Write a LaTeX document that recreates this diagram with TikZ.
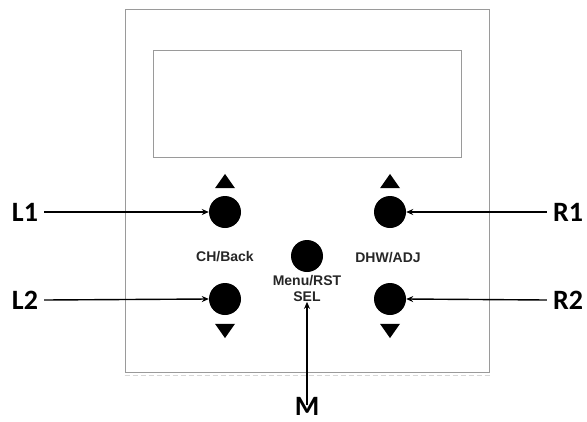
\documentclass[tikz,border=0pt]{standalone}
\usepackage{fontspec}
\newfontfamily\calib{Carlito}
\newfontfamily\arialb{Liberation Sans}
\usepackage{tikz}
\usetikzlibrary{arrows.meta,positioning,shapes.geometric,calc}
\definecolor{frame}{HTML}{9A9A9A}
\definecolor{ink}{HTML}{000000}
\tikzset{
  panelbox/.style={rectangle, draw=frame, line width=1pt},
  knob/.style={circle, fill=ink, minimum size=32pt, inner sep=0pt},
  uptri/.style={isosceles triangle, isosceles triangle apex angle=70,
    shape border rotate=90, fill=ink, minimum width=20pt, minimum height=13pt, inner sep=0pt},
  downtri/.style={uptri, shape border rotate=-90},
  keytext/.style={font=\arialb\bfseries\fontsize{14}{16}\selectfont, align=center, text=ink!85},
  callout/.style={font=\calib\bfseries\fontsize{28}{30}\selectfont, inner sep=0pt},
  pointer/.style={-{Stealth[length=7pt,width=6pt]}, line width=1.4pt, color=ink}
}
\begin{document}
\begin{tikzpicture}[x=1pt, y=-1pt]
  \useasboundingbox (0,0) rectangle (587,421);
  % panel and display
  \node[panelbox, minimum width=364pt, minimum height=363pt] (panel) at (307,190.5) {};
  \draw[frame!40, dashed, dash pattern=on 5pt off 3pt, line width=0.8pt]
    ([yshift=-3pt]panel.south west) -- ([yshift=-3pt]panel.south east);
  \node[panelbox, minimum width=308pt, minimum height=107pt] (lcd) at (307,103.5) {};
  % buttons
  \node[knob] (l1) at (225,212) {};
  \node[knob] (l2) at (225,299) {};
  \node[knob] (r1) at (390,212) {};
  \node[knob] (r2) at (390,299) {};
  \node[knob] (mid) at (307,256) {};
  \node[uptri] (l1up) at (225,183) {};
  \node[uptri] (r1up) at (390,183) {};
  \node[downtri] (l2dn) at (225,329) {};
  \node[downtri] (r2dn) at (390,329) {};
  \node[keytext] (chback) at (225,257) {CH/Back};
  \node[keytext] (dhwadj) at (388,258) {DHW/ADJ};
  \node[keytext, below=3pt of mid, inner sep=0pt] (menusel) {Menu/RST\\SEL};
  % callouts
  \node[callout] (lab1) at (25,212) {L1};
  \node[callout] (lab2) at (25,300) {L2};
  \node[callout] (rab1) at (568,212) {R1};
  \node[callout] (rab2) at (568,300) {R2};
  \node[callout] (mab) at (307,406) {M};
  \draw[pointer] (lab1.east) ++(6pt,0) -- (l1.west);
  \draw[pointer] (lab2.east) ++(6pt,0) -- (l2.west);
  \draw[pointer] (rab1.west) ++(-6pt,0) -- (r1.east);
  \draw[pointer] (rab2.west) ++(-6pt,0) -- (r2.east);
  \draw[pointer] (mab.north) ++(0,-8pt) -- (menusel.south);
\end{tikzpicture}
\end{document}
